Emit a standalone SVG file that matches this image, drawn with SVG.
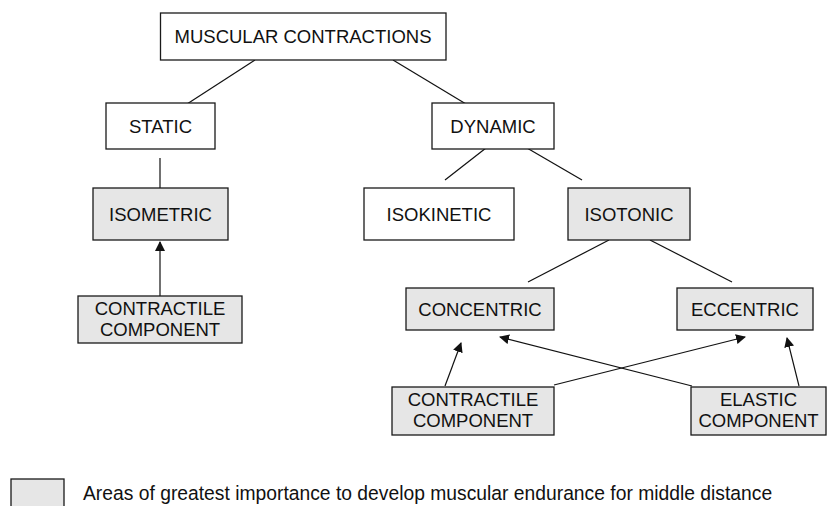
<svg xmlns="http://www.w3.org/2000/svg" width="833" height="506" viewBox="0 0 833 506">
<style>
.b{fill:#ffffff;stroke:#1a1a1a;stroke-width:1.3}
.g{fill:#e6e6e6;stroke:#1a1a1a;stroke-width:1.3}
text{font-family:"Liberation Sans",Arial,sans-serif;font-size:18.5px;fill:#111;text-anchor:middle}
.c line{stroke:#111;stroke-width:1.2}
.a{marker-end:url(#ah)}
</style>
<defs>
<marker id="ah" viewBox="0 0 10 10" refX="9" refY="5" markerWidth="10" markerHeight="10" markerUnits="userSpaceOnUse" orient="auto">
<path d="M0,0 L10,5 L0,10 z" fill="#111"/>
</marker>
</defs>
<rect width="833" height="506" fill="#ffffff"/>
<g class="c" id="connectors">
<line x1="255" y1="60" x2="187" y2="104"/>
<line x1="393" y1="60" x2="466" y2="104"/>
<line x1="160" y1="158" x2="160" y2="190"/>
<line class="a" x1="160" y1="296" x2="160" y2="242"/>
<line x1="486" y1="148" x2="445" y2="180"/>
<line x1="527" y1="148" x2="582" y2="180"/>
<line x1="609" y1="240" x2="528" y2="282"/>
<line x1="650" y1="240" x2="732" y2="282"/>
<line class="a" x1="445" y1="386" x2="461" y2="343"/>
<line class="a" x1="692" y1="386" x2="500" y2="337"/>
<line class="a" x1="554" y1="385" x2="745" y2="337"/>
<line class="a" x1="799" y1="386" x2="787" y2="338"/>
</g>
<g id="muscular"><rect class="b" x="160.5" y="13" width="285.5" height="47"/><text x="303" y="43">MUSCULAR CONTRACTIONS</text></g>
<g id="static"><rect class="b" x="106" y="103" width="109" height="46"/><text x="160.5" y="133">STATIC</text></g>
<g id="dynamic"><rect class="b" x="432" y="103" width="122" height="46"/><text x="493" y="133">DYNAMIC</text></g>
<g id="isometric"><rect class="g" x="93" y="188" width="135" height="52"/><text x="160.5" y="221">ISOMETRIC</text></g>
<g id="isokinetic"><rect class="b" x="364" y="188" width="150" height="52"/><text x="439" y="221">ISOKINETIC</text></g>
<g id="isotonic"><rect class="g" x="568" y="188" width="122" height="52"/><text x="629" y="221">ISOTONIC</text></g>
<g id="contractile1"><rect class="g" x="78" y="296" width="164" height="47"/><text x="160" y="315">CONTRACTILE</text><text x="160" y="336">COMPONENT</text></g>
<g id="concentric"><rect class="g" x="406" y="288" width="148" height="42"/><text x="480" y="316">CONCENTRIC</text></g>
<g id="eccentric"><rect class="g" x="677" y="288" width="136" height="42"/><text x="745" y="316">ECCENTRIC</text></g>
<g id="contractile2"><rect class="g" x="392" y="387" width="162" height="48"/><text x="473" y="406">CONTRACTILE</text><text x="473" y="427">COMPONENT</text></g>
<g id="elastic"><rect class="g" x="691" y="387" width="135" height="48"/><text x="758.5" y="406">ELASTIC</text><text x="758.5" y="427">COMPONENT</text></g>
<g id="legend"><rect class="g" x="11" y="479" width="53" height="40"/><text x="83" y="500" style="text-anchor:start;font-size:19.3px">Areas of greatest importance to develop muscular endurance for middle distance</text></g>
</svg>
